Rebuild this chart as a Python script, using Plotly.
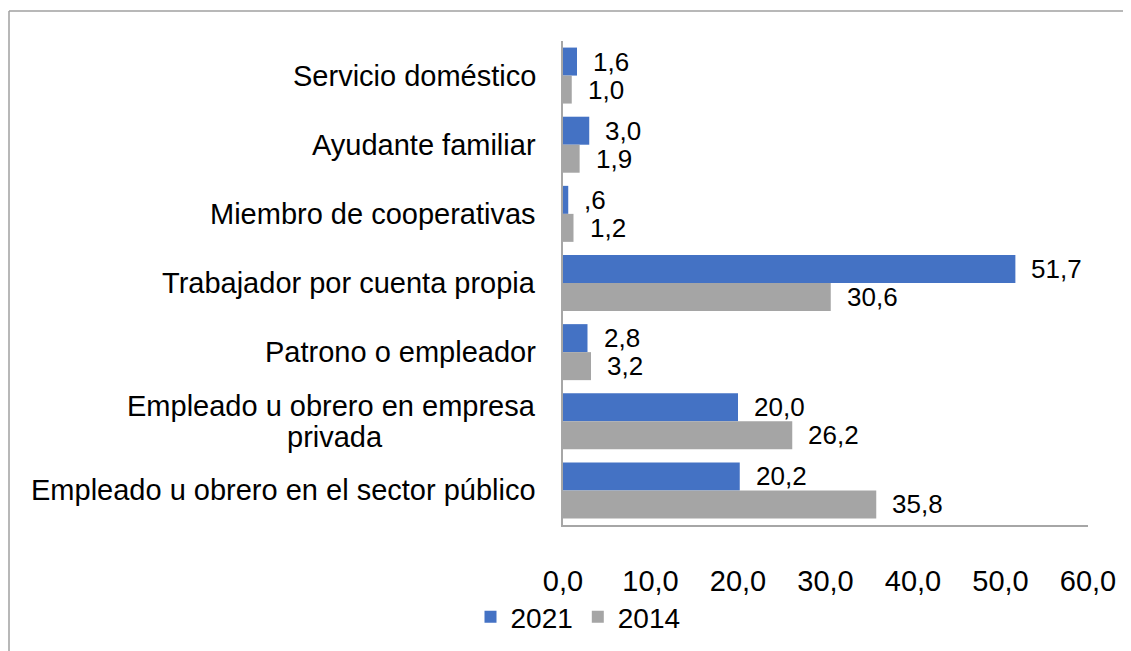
import plotly.graph_objects as go

# categories top to bottom, values per year
categorias = [
    "Servicio doméstico",
    "Ayudante familiar",
    "Miembro de cooperativas",
    "Trabajador por cuenta propia",
    "Patrono o empleador",
    "Empleado u obrero en empresa<br>privada",
    "Empleado u obrero en el sector público",
]
valores_2021 = [1.6, 3.0, 0.6, 51.7, 2.8, 20.0, 20.2]
valores_2014 = [1.0, 1.9, 1.2, 30.6, 3.2, 26.2, 35.8]
series = [("2021", valores_2021, "#4472C4"), ("2014", valores_2014, "#A5A5A5")]
ticks_x = [0, 10, 20, 30, 40, 50, 60]
ticks_texto = ["0,0", "10,0", "20,0", "30,0", "40,0", "50,0", "60,0"]

# the page body has an 8px margin, so the figure is sized and placed for it
OFF = 8
W, H = 1131 - OFF, 651 - OFF
L, R, T, B = 563 - OFF, 43, 41 - OFF, 126
PW, PH = W - L - R, H - T - B


def px_x(px):
    # page pixel -> paper x
    return (px - OFF - L) / PW


def px_y(py):
    # page pixel -> paper y
    return (H - B - (py - OFF)) / PH


def etiqueta(v):
    s = f"{v:.1f}".replace(".", ",")
    if s.startswith("0,"):
        s = s[1:]
    return s


fig = go.Figure()
for nombre, vals, color in series:
    fig.add_trace(go.Bar(
        name=nombre, y=categorias, x=vals, orientation="h",
        marker=dict(color=color, line_width=0),
        hoverinfo="x+name",
    ))

annotations = []
# category labels; wrapped ones get one annotation per line, tighter spacing,
# and the short line centered under the long one
LINEA = 31
for cat in categorias:
    lineas = cat.split("<br>")
    n = len(lineas)
    for k, linea in enumerate(lineas):
        annotations.append(dict(
            x=0, xref="paper", y=cat, yref="y",
            xanchor="right" if k == 0 else "center",
            xshift=-25 if k == 0 else -25 - 203,
            yanchor="middle", yshift=((n - 1) / 2 - k) * LINEA,
            showarrow=False, text=linea,
            font=dict(size=29, color="black"),
        ))

for i, (nombre, vals, color) in enumerate(series):
    shift = 14 if i == 0 else -14
    for cat, v in zip(categorias, vals):
        annotations.append(dict(
            x=v, xref="x", y=cat, yref="y", xanchor="left", yanchor="middle",
            xshift=14, yshift=shift, showarrow=False, text=etiqueta(v),
            font=dict(size=26, color="black"),
        ))

shapes = [
    dict(type="line", xref="paper", yref="paper", x0=px_x(9), x1=px_x(9), y0=px_y(11), y1=px_y(700),
         line=dict(color="#A0A0A0", width=1.5)),
    dict(type="line", xref="paper", yref="paper", x0=px_x(9), x1=px_x(1200), y0=px_y(11), y1=px_y(11),
         line=dict(color="#A0A0A0", width=1.5)),
]

fig.update_layout(
    width=W, height=H,
    margin=dict(l=L, r=R, t=T, b=B, pad=0, autoexpand=False),
    paper_bgcolor="white", plot_bgcolor="white",
    font=dict(family="Liberation Sans, Arial", color="black"),
    separators=",.",
    barmode="group", bargap=0.19, bargroupgap=0,
    annotations=annotations, shapes=shapes,
    legend=dict(orientation="h", x=px_x(578), xanchor="center", y=px_y(617), yanchor="middle",
                font=dict(size=28), itemwidth=30, traceorder="normal",
                bgcolor="rgba(0,0,0,0)"),
    xaxis=dict(range=[0, 60], tickvals=ticks_x, ticktext=ticks_texto, showgrid=False, zeroline=False,
               showline=True, linecolor="#A6A6A6", linewidth=1.5, ticks="", ticklabelstandoff=29,
               tickfont=dict(size=29)),
    yaxis=dict(autorange="reversed", showticklabels=False, showgrid=False, zeroline=False,
               showline=True, linecolor="#A6A6A6", linewidth=1.5, ticks=""),
)

fig.write_html("out.html")
